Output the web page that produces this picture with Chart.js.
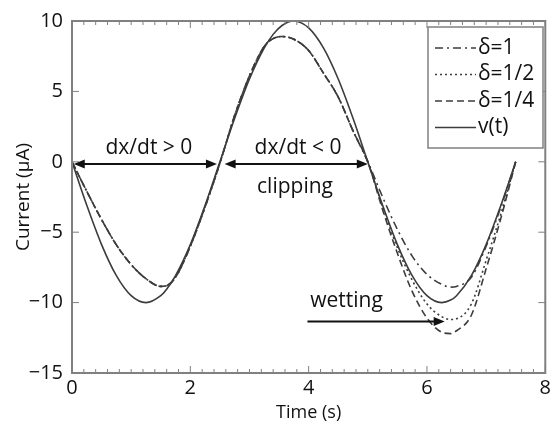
<!DOCTYPE html>
<html>
<head>
<meta charset="utf-8">
<script src="https://cdn.jsdelivr.net/npm/chart.js@4.4.0/dist/chart.umd.min.js"></script>
<style>
  html, body { margin: 0; padding: 0; background: #fff; }
  #wrap { width: 554px; height: 424px; }
</style>
</head>
<body>
<div id="wrap"><canvas id="myChart"></canvas></div>
<script>
// time axis shared by all curves (s)
var timeS = [0, 0.25, 0.5, 0.75, 1, 1.25, 1.5, 1.6, 1.75, 2, 2.25, 2.5, 2.75, 3, 3.25, 3.4, 3.55, 3.75,
             4, 4.25, 4.5, 4.75, 5, 5.25, 5.5, 5.75, 6, 6.25, 6.4, 6.5, 6.75, 7, 7.25, 7.5];

// currents (uA)
var delta1 = [0, -2.1, -4.1, -5.9, -7.3, -8.3, -8.85, -8.8, -8.2, -6.0, -3.2, -0.1, 3.3, 6.1, 8.2, 8.75, 8.9, 8.7,
              7.9, 6.3, 4.6, 2.2, 0, -2.5, -4.8, -6.7, -8.0, -8.7, -8.9, -8.85, -8.2, -6.0, -3.2, 0];
var delta2 = [0, -2.1, -4.1, -5.9, -7.3, -8.3, -8.85, -8.8, -8.2, -6.0, -3.2, -0.1, 3.3, 6.1, 8.2, 8.75, 8.9, 8.7,
              7.9, 6.3, 4.6, 2.2, 0, -3.2, -6.1, -8.4, -10.1, -11.0, -11.2, -11.15, -10.1, -7.0, -3.7, 0];
var delta4 = [0, -2.1, -4.1, -5.9, -7.3, -8.3, -8.85, -8.8, -8.2, -6.0, -3.2, -0.1, 3.3, 6.1, 8.2, 8.75, 8.9, 8.7,
              7.9, 6.3, 4.6, 2.2, 0, -3.4, -6.5, -9.2, -11.1, -12.1, -12.2, -12.0, -10.9, -7.6, -4.0, 0];
var voltage = [0, -3.09, -5.88, -8.09, -9.51, -10, -9.51, -9.05, -8.09, -5.88, -3.09, 0, 3.09, 5.88, 8.09, 9.05, 9.68, 10,
               9.51, 8.09, 5.88, 3.09, 0, -3.09, -5.88, -8.09, -9.51, -10, -9.82, -9.51, -8.09, -5.88, -3.09, 0];

var seriesLabels = ["\u03b4=1", "\u03b4=1/2", "\u03b4=1/4", "v(t)"];
var xTicks = [0, 2, 4, 6, 8];
var yTicks = [-15, -10, -5, 0, 5, 10];

var FONT = "'Open Sans', 'DejaVu Sans', sans-serif";
var lineCol = "#3c3c3c";
var axisCol = "#808080";

function pts(ys) {
    return timeS.map(function (t, i) { return { x: t, y: ys[i] }; });
}

// text and arrows drawn on top of the plot
var notes = [
    { text: "dx/dt > 0", x: 1.3, y: 0.95 },
    { text: "dx/dt < 0", x: 3.82, y: 0.95 },
    { text: "clipping", x: 3.77, y: -1.8 },
    { text: "wetting", x: 4.64, y: -9.9 }
];
var arrows = [
    { x0: 0.03, x1: 2.45, y: -0.15, both: true },
    { x0: 2.58, x1: 5.0, y: -0.15, both: true },
    { x0: 3.98, x1: 6.3, y: -11.35, both: false }
];

function head(ctx, x, y, dir) {
    ctx.beginPath();
    ctx.moveTo(x, y);
    ctx.lineTo(x - dir * 11, y - 4.5);
    ctx.lineTo(x - dir * 11, y + 4.5);
    ctx.closePath();
    ctx.fill();
}

var extras = {
    id: "extras",
    afterDraw: function (chart) {
        var ctx = chart.ctx, a = chart.chartArea;
        var xs = chart.scales.x, ys = chart.scales.y;
        ctx.save();

        // frame and inward ticks
        ctx.strokeStyle = axisCol;
        ctx.lineWidth = 2;
        ctx.strokeRect(a.left, a.top, a.right - a.left, a.bottom - a.top);
        ctx.lineWidth = 1;
        for (var k = 0; k <= 40; k++) {
            var v = k * 0.2;
            var px = xs.getPixelForValue(v);
            var len = (k % 10 === 0) ? 7 : 4;
            ctx.beginPath();
            ctx.moveTo(px, a.bottom); ctx.lineTo(px, a.bottom - len);
            ctx.moveTo(px, a.top); ctx.lineTo(px, a.top + len);
            ctx.stroke();
        }
        yTicks.forEach(function (v) {
            var py = ys.getPixelForValue(v);
            ctx.beginPath();
            ctx.moveTo(a.left, py); ctx.lineTo(a.left + 7, py);
            ctx.moveTo(a.right, py); ctx.lineTo(a.right - 7, py);
            ctx.stroke();
        });

        // annotations
        ctx.fillStyle = "#111";
        ctx.strokeStyle = "#111";
        ctx.lineWidth = 2;
        arrows.forEach(function (ar) {
            var x0 = xs.getPixelForValue(ar.x0), x1 = xs.getPixelForValue(ar.x1);
            var py = ys.getPixelForValue(ar.y);
            ctx.beginPath();
            ctx.moveTo(ar.both ? x0 + 6 : x0, py); ctx.lineTo(x1 - 6, py);
            ctx.stroke();
            head(ctx, x1, py, 1);
            if (ar.both) head(ctx, x0, py, -1);
        });
        ctx.font = "21px " + FONT;
        ctx.textAlign = "center";
        ctx.textBaseline = "middle";
        notes.forEach(function (n) {
            ctx.fillText(n.text, xs.getPixelForValue(n.x), ys.getPixelForValue(n.y));
        });

        // legend box
        var bx = 428, by = 27, bw = 115, bh = 121;
        ctx.fillStyle = "#fff";
        ctx.fillRect(bx, by, bw, bh);
        ctx.strokeStyle = axisCol;
        ctx.lineWidth = 1.5;
        ctx.strokeRect(bx, by, bw, bh);
        ctx.textAlign = "left";
        ctx.fillStyle = "#111";
        chart.data.datasets.forEach(function (ds, i) {
            var ry = by + 21 + i * 26.5;
            ctx.strokeStyle = ds.borderColor;
            ctx.lineWidth = ds.borderWidth;
            ctx.setLineDash(ds.borderDash || []);
            ctx.beginPath();
            ctx.moveTo(bx + 7, ry); ctx.lineTo(bx + 48, ry);
            ctx.stroke();
            ctx.setLineDash([]);
            ctx.fillText(ds.label, bx + 50, ry);
        });
        ctx.restore();
    }
};

new Chart("myChart", {
    type: "line",
    data: {
        datasets: [
            { label: seriesLabels[0], data: pts(delta1), borderDash: [8, 4, 2, 4] },
            { label: seriesLabels[1], data: pts(delta2), borderDash: [2, 3] },
            { label: seriesLabels[2], data: pts(delta4), borderDash: [7, 4] },
            { label: seriesLabels[3], data: pts(voltage), borderDash: [] }
        ].map(function (d) {
            d.borderColor = lineCol;
            d.borderWidth = 1.6;
            d.pointRadius = 0;
            d.fill = false;
            d.cubicInterpolationMode = "monotone";
            return d;
        })
    },
    options: {
        responsive: true,
        maintainAspectRatio: false,
        animation: false,
        layout: { padding: { top: 17, right: 8, left: 0, bottom: 0 } },
        plugins: { legend: { display: false }, tooltip: { enabled: false } },
        scales: {
            x: {
                type: "linear",
                min: 0, max: 8,
                afterBuildTicks: function (s) { s.ticks = xTicks.map(function (v) { return { value: v }; }); },
                afterFit: function (s) { s.height = 51; },
                grid: { display: false, drawTicks: false },
                border: { display: false },
                ticks: { color: "#111", padding: 3, font: { family: FONT, size: 20 } },
                title: { display: true, text: "Time (s)", color: "#111", padding: { top: -6, bottom: 0 },
                         font: { family: FONT, size: 18 } }
            },
            y: {
                min: -15, max: 10,
                afterBuildTicks: function (s) { s.ticks = yTicks.map(function (v) { return { value: v }; }); },
                afterFit: function (s) { s.width = 72; },
                grid: { display: false, drawTicks: false },
                border: { display: false },
                ticks: {
                    color: "#111", padding: 9, font: { family: FONT, size: 20 },
                    callback: function (v) { return String(v).replace("-", "\u2212"); }
                },
                title: { display: true, text: "Current (\u03bcA)", color: "#111", padding: { top: 12, bottom: 0 },
                         font: { family: FONT, size: 19 } }
            }
        }
    },
    plugins: [extras]
});
</script>
</body>
</html>
